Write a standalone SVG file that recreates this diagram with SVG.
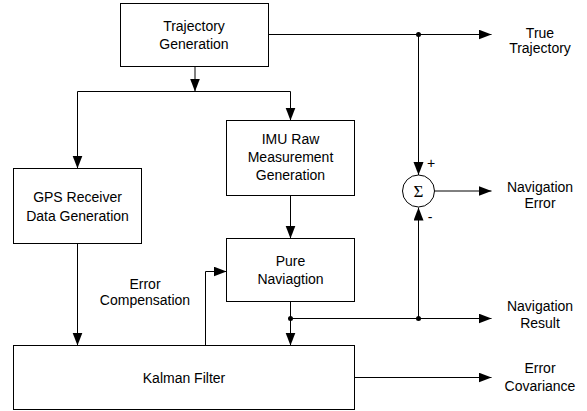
<svg xmlns="http://www.w3.org/2000/svg" width="587" height="411" viewBox="0 0 587 411">
<style>
.box{fill:#fff;stroke:#000;stroke-width:1}
.ln{fill:none;stroke:#000;stroke-width:1}
.t{font-family:"Liberation Sans",Arial,sans-serif;font-size:14px;fill:#000;text-anchor:middle}
.dot{fill:#000}
</style>
<defs>
<marker id="ah" markerUnits="userSpaceOnUse" markerWidth="14" markerHeight="12" refX="13" refY="5" orient="auto">
<path d="M0,0 L13,5 L0,10 Z" fill="#000"/>
</marker>
</defs>
<rect width="587" height="411" fill="#fff"/>
<g id="connectors">
<path class="ln" d="M195,66.5 V91.5" marker-end="url(#ah)"/>
<path class="ln" d="M77.5,91.5 H290.5"/>
<path class="ln" d="M77.5,91.5 V168.5" marker-end="url(#ah)"/>
<path class="ln" d="M290.5,91.5 V120.5" marker-end="url(#ah)"/>
<path class="ln" d="M290.5,195.5 V238.5" marker-end="url(#ah)"/>
<path class="ln" d="M77.5,243.5 V345.5" marker-end="url(#ah)"/>
<path class="ln" d="M205.5,345.5 V271.5 H226.5" marker-end="url(#ah)"/>
<path class="ln" d="M290.5,301.5 V345.5" marker-end="url(#ah)"/>
<path class="ln" d="M290.5,318.5 H491.5" marker-end="url(#ah)"/>
<path class="ln" d="M418.5,318.5 V207.5" marker-end="url(#ah)"/>
<path class="ln" d="M268.5,34.5 H491.5" marker-end="url(#ah)"/>
<path class="ln" d="M418.5,34.5 V175" marker-end="url(#ah)"/>
<path class="ln" d="M434.5,191 H491.5" marker-end="url(#ah)"/>
<path class="ln" d="M354.5,377.5 H491.5" marker-end="url(#ah)"/>
<circle class="dot" cx="418.5" cy="34.5" r="2.5"/>
<circle class="dot" cx="290.5" cy="318.5" r="2.5"/>
<circle class="dot" cx="418.5" cy="318.5" r="2.5"/>
<text class="t" x="145" y="289">Error</text>
<text class="t" x="145" y="305">Compensation</text>
<text class="t" x="431" y="168">+</text>
<text class="t" x="430" y="222">-</text>
</g>
<g id="trajectory">
<rect class="box" x="120.5" y="3.5" width="148" height="63"/>
<text class="t" x="194" y="30.5">Trajectory</text>
<text class="t" x="194" y="48.5">Generation</text>
</g>
<g id="gps">
<rect class="box" x="13.5" y="168.5" width="128" height="75"/>
<text class="t" x="77.5" y="202">GPS Receiver</text>
<text class="t" x="77.5" y="220.5">Data Generation</text>
</g>
<g id="imu">
<rect class="box" x="226.5" y="120.5" width="128" height="75"/>
<text class="t" x="290.5" y="144">IMU Raw</text>
<text class="t" x="290.5" y="162">Measurement</text>
<text class="t" x="290.5" y="180">Generation</text>
</g>
<g id="purenav">
<rect class="box" x="226.5" y="238.5" width="128" height="63"/>
<text class="t" x="290.5" y="265.5">Pure</text>
<text class="t" x="290.5" y="284">Naviagtion</text>
</g>
<g id="kalman">
<rect class="box" x="13.5" y="345.5" width="341" height="64"/>
<text class="t" x="184" y="383">Kalman Filter</text>
</g>
<g id="sum">
<circle class="box" cx="418.5" cy="191" r="16"/>
<text x="418.5" y="197" text-anchor="middle" font-family="'Liberation Serif','DejaVu Serif',serif" font-size="17">Σ</text>
</g>
<g id="true-trajectory">
<text class="t" x="540" y="37.5">True</text>
<text class="t" x="540" y="53">Trajectory</text>
</g>
<g id="navigation-error">
<text class="t" x="540" y="192">Navigation</text>
<text class="t" x="540" y="208">Error</text>
</g>
<g id="navigation-result">
<text class="t" x="540" y="310.5">Navigation</text>
<text class="t" x="540" y="327.5">Result</text>
</g>
<g id="error-covariance">
<text class="t" x="540" y="373">Error</text>
<text class="t" x="540" y="391">Covariance</text>
</g>
</svg>
